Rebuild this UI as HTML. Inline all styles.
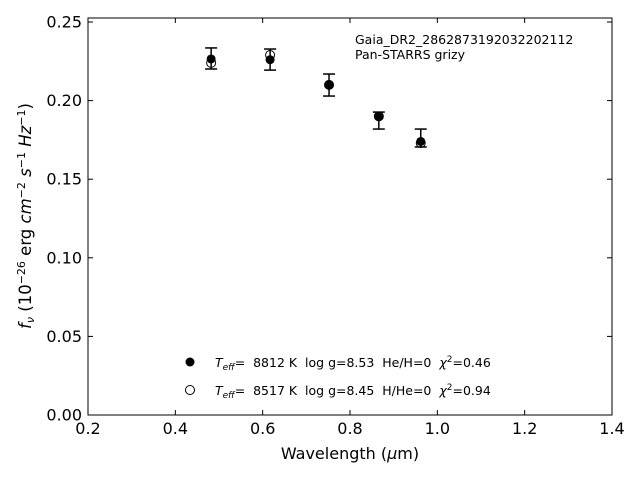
<!DOCTYPE html>
<html><head><meta charset="utf-8"><style>
body{margin:0;background:#fff;}
svg text{font-family:"DejaVu Sans","Liberation Sans",sans-serif;white-space:pre;}
</style></head><body>
<svg id="c" width="640" height="480" viewBox="0 0 640 480" xmlns="http://www.w3.org/2000/svg">
<rect x="88" y="18" width="524" height="397" fill="none" stroke="#000" stroke-width="1"/>
<g id="ticks"></g>
<g id="marks"></g>
<text x="355" y="44" font-size="12.5">Gaia_DR2_2862873192032202112</text>
<text x="355" y="59" font-size="12.5">Pan-STARRS grizy</text>
<g>
<circle cx="190" cy="362" r="4.5" fill="#000"/>
<text x="215" y="367" font-size="12.5" xml:space="preserve"><tspan font-style="italic">T</tspan><tspan font-size="9" dy="3" font-style="italic">eff</tspan><tspan dy="-3">=  8812 K  log g=8.53  He/H=0  </tspan><tspan font-style="italic">χ</tspan><tspan font-size="9" dy="-5">2</tspan><tspan dy="5">=0.46</tspan></text>
<circle cx="190" cy="390" r="4.5" fill="#fff" stroke="#000"/>
<text x="215" y="395" font-size="12.5" xml:space="preserve"><tspan font-style="italic">T</tspan><tspan font-size="9" dy="3" font-style="italic">eff</tspan><tspan dy="-3">=  8517 K  log g=8.45  H/He=0  </tspan><tspan font-style="italic">χ</tspan><tspan font-size="9" dy="-5">2</tspan><tspan dy="5">=0.94</tspan></text>
</g>
<text x="350" y="459" font-size="16" text-anchor="middle">Wavelength (<tspan font-style="italic">μ</tspan>m)</text>
<text transform="translate(31,216) rotate(-90)" font-size="16.5" text-anchor="middle"><tspan font-style="italic">f</tspan><tspan font-size="11" dy="3" font-style="italic">ν</tspan><tspan dy="-3"> (10</tspan><tspan font-size="11" dy="-6">−26</tspan><tspan dy="6"> erg </tspan><tspan font-style="italic">cm</tspan><tspan font-size="11" dy="-6">−2</tspan><tspan dy="6" font-style="italic"> s</tspan><tspan font-size="11" dy="-6">−1</tspan><tspan dy="6" font-style="italic"> Hz</tspan><tspan font-size="11" dy="-6">−1</tspan><tspan dy="6">)</tspan></text>
</svg>
<script>
const wavelengths=[0.482,0.617,0.752,0.866,0.962];
const obsFlux=[0.2268,0.2261,0.2099,0.1873,0.1762];
const obsErr=[0.0067,0.0067,0.007,0.0054,0.0057];
const model1Flux=[0.2265,0.226,0.210,0.190,0.174];
const model2Flux=[0.224,0.229,0.210,0.190,0.173];
const xTicks=[0.2,0.4,0.6,0.8,1.0,1.2,1.4];
const yTicks=[0.00,0.05,0.10,0.15,0.20,0.25];
const X=v=>88+(v-0.2)/1.2*524;
const Y=v=>415-v/0.25*393;
const NS="http://www.w3.org/2000/svg";
function mk(t,a,p){const e=document.createElementNS(NS,t);for(const k in a)e.setAttribute(k,a[k]);p.appendChild(e);return e;}
const tg=document.getElementById('ticks'),mg=document.getElementById('marks');
xTicks.forEach(v=>{const x=X(v);
const l=mk('line',{x1:x,x2:x,y1:415,y2:410,stroke:'#000'},tg);


const l2=mk('line',{x1:x,x2:x,y1:18,y2:23,stroke:'#000'},tg);


const t=mk('text',{x:x,y:434,'font-size':16,'text-anchor':'middle'},tg);t.textContent=v.toFixed(1);

});
yTicks.forEach(v=>{const y=Y(v);
const l=mk('line',{x1:88,x2:93,y1:y,y2:y,stroke:'#000'},tg);


const l2=mk('line',{x1:607,x2:612,y1:y,y2:y,stroke:'#000'},tg);


const t=mk('text',{x:82,y:y+5.5,'font-size':16,'text-anchor':'end'},tg);t.textContent=v.toFixed(2);

});
wavelengths.forEach((w,i)=>{const x=X(w);
const c2=mk('circle',{cx:x,cy:Y(model2Flux[i]),r:4.5,fill:'#fff',stroke:'#000'},mg);


const c1=mk('circle',{cx:x,cy:Y(model1Flux[i]),r:4.5,fill:'#000'},mg);


const g=mk('g',{stroke:'#000','stroke-width':1.5},mg);


const y1=Y(obsFlux[i]+obsErr[i]),y2=Y(obsFlux[i]-obsErr[i]);
mk('line',{x1:x,x2:x,y1:y1,y2:y2},g);
mk('line',{x1:x-6,x2:x+6,y1:y1,y2:y1},g);
mk('line',{x1:x-6,x2:x+6,y1:y2,y2:y2},g);});
</script>
</body></html>
